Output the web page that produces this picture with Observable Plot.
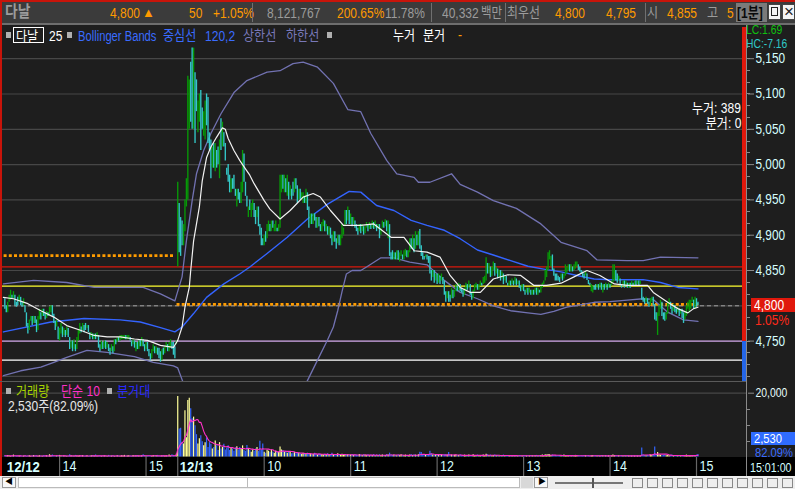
<!DOCTYPE html>
<html><head><meta charset="utf-8">
<script src="https://cdn.jsdelivr.net/npm/d3@7"></script>
<script src="https://cdn.jsdelivr.net/npm/@observablehq/plot@0.6"></script>
<style>
html,body{margin:0;padding:0;}
body{width:795px;height:489px;overflow:hidden;position:relative;background:#1e1e1e;font-family:"Liberation Sans","Noto Sans CJK KR",sans-serif;}
.abs{position:absolute;white-space:nowrap;line-height:1;transform:scaleX(0.86);transform-origin:left center;}
#top{position:absolute;left:0;top:0;width:795px;height:25px;background:#3b3b3b;border-top:2px solid #c8140a;border-bottom:2px solid #6e6e6e;box-sizing:border-box;}
#main{position:absolute;left:0;top:25px;}
#vol{position:absolute;left:0;top:381px;}
#time{position:absolute;left:0;top:457px;}
#scroll{position:absolute;left:0;top:476px;width:795px;height:13px;background:#eeeeee;}
</style></head>
<body>
<div id="top"></div>
<div id="main"></div>
<div id="vol"></div>
<div id="time"></div>
<div id="scroll"></div>
<script>
// ---------------- DATA ----------------
// 1-minute candles, 12/12 afternoon session (13:22 .. close)
const open1212 = [
4810,4800,4790,4805,4808,4815,4810,4815,4805,4812,
4805,4812,4805,4800,4800,4790,4775,4765,4778,4785,
4775,4785,4780,4765,4780,4790,4785,4795,4790,4782,
4790,4785,4790,4800,4788,4778,4770,4770,4750,4760,
4770,4758,4765,4758,4768,4755,4740,4750,4738,4745,
4738,4750,4760,4770,4765,4772,4775,4768,4772,4762,
4755,4760,4752,4760,4755,4758,4745,4738,4748,4740,
4750,4740,4745,4740,4735,4742,4735,4752,4748,4755,
4750,4752,4752,4752,4758,4752,4752,4755,4750,4745,
4750,4735,4748,4738,4752,4742,4752,4745,4738,4748,
4738,4732,4725,4735,4742,4732,4740,4740,4735,4722,
4740,4732,4740,4745,4735,4740,4748,4748,4742,4745];
const close1212 = [
4795,4790,4805,4815,4822,4810,4820,4800,4798,4800,
4815,4800,4798,4810,4790,4770,4760,4780,4785,4772,
4785,4775,4762,4785,4795,4780,4795,4785,4780,4792,
4785,4798,4800,4785,4775,4765,4780,4752,4768,4775,
4755,4768,4755,4770,4755,4738,4750,4735,4752,4735,
4755,4765,4775,4762,4775,4762,4765,4772,4762,4752,
4762,4752,4760,4752,4762,4740,4735,4750,4738,4750,
4738,4748,4735,4730,4745,4732,4752,4745,4755,4750,
4758,4758,4758,4758,4752,4758,4758,4750,4742,4752,
4740,4748,4738,4750,4742,4755,4742,4735,4748,4735,
4728,4722,4738,4745,4732,4742,4730,4725,4720,4738,
4730,4742,4748,4735,4748,4752,4738,4730,4725,4750];
// volume, hundreds of shares
const vol1212 = [
4,3,5,3,2,4,6,3,2,3, 3,4,2,3,5,2,3,4,2,3, 5,4,3,2,4,3,2,5,3,4,
2,7,4,6,3,2,3,4,5,3, 2,4,3,2,3,7,4,2,3,5, 3,2,4,3,5,2,3,4,2,3,
4,5,3,6,2,3,4,2,3,4, 3,2,5,4,3,4,2,3,4,3, 2,4,3,5,2,3,4,3,2,5,
3,4,5,3,2,4,7,5,2,3, 4,3,2,5,3,4,5,3,2,4, 5,3,4,2,6,3,7,5,4,9];

// 1-minute candles, 12/13 (09:00 .. 15:01)
const open1213 = [
4855,4945,4925,4920,4885,4905,4940,4950,5050,5145,
5165,5050,5130,5120,5045,5060,5105,5080,5040,5035,
5100,5095,5045,5035,4995,5030,4990,5020,5025,4980,
5065,5025,5045,5030,4995,5000,4985,4960,4980,4985,
4965,4940,4965,4960,4945,4960,5015,4975,4955,4925,
4950,4925,4935,4945,4935,4925,4940,4915,4910,4895,
4885,4905,4895,4905,4915,4905,4920,4905,4905,4910,
4905,4910,4960,4985,4960,4980,4955,4975,4955,4965,
4975,4960,4980,4970,4950,4965,4950,4945,4955,4945,
4960,4940,4915,4930,4915,4930,4925,4910,4925,4915,
4905,4912,4920,4905,4912,4900,4910,4900,4890,4905,
4895,4888,4900,4885,4895,4900,4912,4935,4920,4935,
4915,4925,4915,4920,4915,4910,4905,4915,4905,4912,
4902,4910,4915,4908,4915,4910,4918,4910,4915,4908,
4915,4900,4910,4918,4912,4920,4895,4915,4875,4878,
4865,4875,4865,4878,4862,4870,4872,4865,4870,4878,
4868,4875,4895,4880,4895,4880,4900,4885,4908,4885,
4875,4870,4868,4872,4870,4870,4850,4840,4850,4835,
4845,4832,4842,4835,4840,4835,4820,4810,4820,4815,
4810,4822,4812,4820,4828,4822,4830,4825,4822,4815,
4822,4830,4825,4830,4818,4810,4820,4825,4830,4822,
4828,4832,4830,4832,4835,4860,4845,4855,4842,4850,
4860,4845,4852,4840,4850,4838,4845,4835,4842,4832,
4828,4835,4830,4835,4830,4838,4830,4835,4828,4822,
4830,4822,4818,4825,4818,4822,4815,4822,4818,4825,
4815,4822,4818,4825,4830,4835,4840,4850,4865,4855,
4872,4852,4845,4845,4842,4840,4838,4845,4838,4842,
4845,4850,4858,4848,4855,4850,4852,4855,4858,4855,
4850,4848,4845,4842,4845,4836,4832,4820,4818,4828,
4830,4825,4830,4825,4832,4818,4830,4825,4830,4825,
4830,4828,4832,4835,4850,4845,4835,4838,4830,4828,
4835,4828,4832,4825,4832,4828,4832,4828,4835,4830,
4835,4830,4825,4812,4810,4805,4810,4805,4800,4805,
4812,4802,4790,4758,4785,4795,4805,4790,4790,4780,
4788,4800,4805,4798,4792,4800,4795,4790,4795,4788,
4795,4790,4780,4785,4795,4790,4795,4805,4808,4795,
4810,4805];
const close1213 = [
4975,4875,4870,4885,4915,4950,4980,5125,5120,5060,
5050,5165,5030,5075,5090,5100,5020,5050,5075,5090,
5055,5030,5020,4980,5025,4995,5030,4995,5000,5035,
5020,5060,5025,5005,4985,4975,4960,4980,4965,4965,
4955,4965,4950,4945,4975,5020,4975,4955,4940,4940,
4935,4945,4950,4925,4915,4940,4912,4900,4885,4885,
4900,4890,4915,4920,4905,4920,4910,4915,4920,4905,
4915,4985,4985,4965,4985,4960,4985,4950,4970,4950,
4955,4980,4965,4945,4965,4950,4960,4960,4945,4965,
4935,4910,4930,4915,4930,4920,4910,4925,4912,4905,
4918,4922,4905,4915,4900,4912,4895,4885,4905,4890,
4880,4900,4885,4900,4915,4910,4935,4915,4940,4915,
4930,4912,4925,4910,4905,4900,4915,4902,4915,4900,
4912,4918,4905,4918,4908,4920,4908,4920,4905,4915,
4895,4910,4920,4910,4922,4905,4920,4870,4865,4865,
4875,4865,4878,4865,4875,4878,4865,4878,4880,4868,
4878,4895,4880,4900,4875,4905,4885,4905,4880,4870,
4865,4865,4872,4865,4860,4845,4835,4850,4832,4845,
4830,4845,4830,4845,4830,4815,4805,4820,4805,4805,
4825,4810,4822,4830,4820,4832,4820,4818,4812,4825,
4832,4822,4835,4815,4808,4822,4830,4832,4822,4830,
4835,4828,4840,4842,4868,4845,4860,4840,4855,4862,
4842,4855,4838,4850,4835,4848,4830,4842,4832,4828,
4835,4828,4838,4828,4840,4828,4835,4825,4820,4830,
4820,4815,4825,4815,4825,4815,4822,4815,4825,4815,
4825,4818,4828,4832,4835,4850,4855,4875,4878,4870,
4850,4842,4835,4835,4835,4833,4845,4835,4845,4858,
4855,4858,4848,4858,4848,4858,4862,4862,4850,4848,
4845,4840,4838,4848,4836,4830,4828,4830,4828,4822,
4822,4830,4822,4832,4822,4830,4822,4832,4822,4832,
4825,4835,4858,4858,4835,4832,4842,4828,4825,4835,
4825,4835,4825,4832,4825,4835,4828,4835,4828,4835,
4828,4835,4808,4805,4802,4812,4802,4798,4810,4812,
4800,4780,4778,4790,4800,4808,4785,4780,4778,4790,
4805,4810,4795,4788,4802,4790,4788,4798,4785,4795,
4782,4775,4790,4800,4805,4808,4808,4812,4795,4812,
4798,4800];
const vol1213 = [
190,88,90,46,41,145,60,177,184,151, 120,125,98,70,41,57,67,48,35,45,
60,30,45,40,25,30,50,35,20,45, 25,30,40,22,28,35,20,30,25,18,
28,32,22,30,25,35,20,18,36,25,
20,15,22,18,25,30,17,49,20,41, 15,12,20,18,14,22,16,12,18,15,
14,31,22,20,15,18,12,16,14,10, 12,15,10,14,12,10,8,12,10,9,
12,8,10,7,9,12,8,6,10,8,
8,6,9,7,10,6,8,12,7,6, 8,10,6,7,9,5,8,6,7,5, 6,8,5,7,6,5,8,6,5,7,
6,5,7,4,6,5,8,4,6,5, 7,5,6,4,5,8,6,12,7,5,
6,5,4,6,5,7,4,5,6,4, 5,6,8,5,7,6,5,7,15,14, 8,6,5,7,6,18,10,6,5,7,
6,5,4,6,5,7,8,6,14,5, 6,4,5,6,4,5,7,4,5,6,
4,5,6,4,5,7,4,5,6,4, 5,4,6,5,9,7,5,6,4,5, 6,4,5,3,4,5,6,4,5,3,
4,5,3,4,5,4,3,5,4,3, 4,5,3,4,3,5,4,3,4,5,
3,4,5,6,5,7,6,8,7,5, 6,4,5,3,4,5,3,4,6,5, 4,3,5,4,3,4,5,3,4,3,
4,3,5,4,3,4,3,4,5,3, 4,3,4,3,5,4,3,4,3,4,
3,4,6,5,4,3,4,3,4,3, 4,3,4,3,4,3,4,3,4,3, 4,3,28,6,5,4,5,4,6,5,
7,31,8,14,6,5,4,5,6,4, 5,4,5,6,4,5,3,4,5,4, 3,4,5,6,4,5,3,4,5,4,
6,8];

// Bollinger Bands (120, 2) and price moving average, read as [slot, price]
// slot = minutes from 12/13 09:00 (12/12 session at negative slots)
const bbUpper = [[-121,4831],[-100,4836],[-77,4833],[-58,4826],[-24,4826],[-12,4817],[-2,4807],
 [3,4841],[6,4892],[10,4949],[13,4987],[18,5020],[23,5044],[30,5072],[39,5102],[48,5119],[62,5131],
 [71,5133],[80,5143],[87,5145],[97,5138],[108,5115],[118,5078],[127,5075],[134,5044],[145,5006],
 [152,4987],[164,4982],[167,4975],[175,4975],[190,4987],[196,4972],[208,4961],[219,4949],[235,4938],
 [252,4916],[266,4890],[284,4878],[291,4865],[312,4864],[323,4864],[335,4869],[361,4868]];
const bbMiddle = [[-121,4763],[-88,4777],[-65,4782],[-40,4780],[-26,4777],[-12,4769],[-2,4763],
 [3,4770],[11,4789],[20,4812],[32,4831],[43,4845],[50,4855],[62,4874],[76,4897],[90,4923],[104,4944],
 [119,4962],[127,4961],[138,4942],[150,4935],[162,4921],[173,4914],[185,4907],[196,4895],[208,4879],
 [219,4872],[231,4864],[243,4856],[254,4852],[266,4848],[277,4843],[289,4838],[300,4837],[323,4837],
 [335,4833],[347,4826],[361,4824]];
const bbLower = [[-121,4701],[-109,4708],[-95,4713],[-86,4720],[-77,4727],[-63,4737],[-49,4734],
 [-30,4728],[-17,4720],[-3,4715],[0,4712],[4,4690],[10,4640],[20,4600],[48,4585],[62,4617],[76,4656],
 [90,4694],[97,4723],[104,4752],[108,4770],[111,4793],[114,4820],[117,4845],[121,4850],[127,4850],
 [131,4855],[141,4868],[150,4868],[161,4862],[173,4858],[185,4836],[196,4819],[208,4810],[219,4800],
 [231,4793],[243,4790],[252,4788],[261,4792],[270,4798],[289,4805],[300,4806],[312,4808],[323,4810],
 [330,4809],[340,4791],[351,4780],[361,4778]];
const priceMA = [[-121,4812],[-114,4810],[-104,4803],[-95,4793],[-86,4784],[-77,4772],[-67,4765],
 [-58,4758],[-49,4756],[-40,4756],[-30,4753],[-21,4751],[-12,4744],[-3,4741],[0,4751],[3,4770],[5,4798],
 [8,4826],[9,4850],[11,4892],[15,4940],[17,4977],[20,5010],[23,5025],[27,5039],[31,5052],[33,5050],
 [35,5037],[39,5020],[43,5006],[47,4994],[50,4985],[53,4973],[60,4949],[64,4937],[71,4923],[78,4935],
 [87,4954],[94,4959],[99,4954],[106,4935],[115,4914],[122,4914],[127,4914],[136,4916],[148,4897],
 [157,4897],[164,4878],[173,4876],[182,4869],[189,4843],[196,4826],[203,4819],[210,4819],[219,4838],
 [229,4844],[238,4843],[247,4829],[256,4829],[266,4832],[275,4841],[284,4850],[293,4843],[303,4831],
 [312,4829],[326,4829],[330,4819],[340,4805],[347,4796],[354,4790],[358,4796],[361,4798]];

// reference price levels
const todayOpen = 4855, prevHigh = 4828, prevClose = 4750, prevLow = 4723;
const sessionLevel1212 = 4871, sessionLevel1213 = 4802;
const lastPrice = 4800;
const priceTicks = [4750, 4800, 4850, 4900, 4950, 5000, 5050, 5100, 5150];
const gridPrices = [4700, 4750, 4800, 4850, 4900, 4950, 5000, 5050, 5100, 5150];
const volTicks = [20000];
const volMinorTicks = [5000, 10000, 15000];
const timeTickSlots = [-120, -82, -22, 0, 60, 120, 180, 240, 300, 360];
const timeTickLabels = ["12/12", "14", "15", "12/13", "10", "11", "12", "13", "14", "15"];

// ---------------- BUILD ----------------
const UP = "#079a07", DOWN = "#34c9c9";
const rows = [];
open1212.forEach((o, i) => rows.push({s: i - open1212.length, o, c: close1212[i], v: vol1212[i] * 100}));
open1213.forEach((o, i) => rows.push({s: i, o, c: close1213[i], v: vol1213[i] * 100}));
const first1212 = -open1212.length, last1213 = open1213.length - 1;
const sessions = [
  {x1: first1212 - 0.5, x2: -1.5, y: sessionLevel1212},
  {x1: -0.5, x2: last1213 + 0.5, y: sessionLevel1213}
];

const X = {type: "linear", domain: [-123, 394], range: [0, 745], axis: null, label: null};
const FONT = '"Liberation Sans","Noto Sans CJK KR",sans-serif';
const minorPrice = [];
for (let p = 4700; p <= 5170; p += 50 / 3) minorPrice.push(p);
const labelTicks = priceTicks.filter(p => p !== lastPrice); // the current-price box covers its own tick label

// narrow the svg labels to the chart's condensed lettering
function condense(svg, k) {
  svg.querySelectorAll("text").forEach(t => {
    let w = 0;
    try { w = t.getBBox().width; } catch (e) { w = 0; }
    if (w > 0) { t.setAttribute("textLength", (w * k).toFixed(1)); t.setAttribute("lengthAdjust", "spacingAndGlyphs"); }
  });
}

const main = Plot.plot({
  width: 795, height: 356,
  marginLeft: 0, marginRight: 48, marginTop: 0, marginBottom: 0,
  style: {background: "transparent", fontFamily: FONT, fontSize: "14px", overflow: "hidden"},
  x: X,
  y: {domain: [4700, 5150], range: [350.9, 33.2], label: null},
  color: {type: "identity"},
  marks: [
    Plot.ruleY(gridPrices, {stroke: "#474747", strokeWidth: 1.2}),
    Plot.ruleY([todayOpen], {stroke: "#d8180c", strokeWidth: 1.3}),
    Plot.ruleY([prevHigh], {stroke: "#ffff30", strokeWidth: 1.3}),
    Plot.ruleY([prevClose], {stroke: "#c89ee0", strokeWidth: 1.3}),
    Plot.ruleY([prevLow], {stroke: "#ffffff", strokeWidth: 1.3}),
    Plot.ruleY([lastPrice], {stroke: "#a0a0a0", strokeWidth: 1, strokeDasharray: "4,3"}),
    Plot.ruleY(sessions, {x1: "x1", x2: "x2", y: "y", stroke: "#ff9c00", strokeWidth: 2.6, strokeDasharray: "3,2.2"}),
    Plot.line(bbUpper, {x: d => d[0], y: d => d[1], stroke: "#7272b2", strokeWidth: 1.3, clip: true}),
    Plot.line(bbLower, {x: d => d[0], y: d => d[1], stroke: "#7272b2", strokeWidth: 1.3, clip: true}),
    Plot.line(bbMiddle, {x: d => d[0], y: d => d[1], stroke: "#3464ff", strokeWidth: 1.4, clip: true}),
    Plot.ruleX(rows, {x: "s", y1: "o", y2: d => d.c === d.o ? d.c + 2 : d.c,
      stroke: d => d.c >= d.o ? UP : DOWN, strokeWidth: 1.35, clip: true}),
    Plot.line(priceMA, {x: d => d[0], y: d => d[1], stroke: "#f2f2f2", strokeWidth: 1.2, clip: true}),
    Plot.axisY({anchor: "right", ticks: labelTicks, tickSize: 6, tickPadding: 2, tickFormat: d3.format(","),
      label: null, stroke: "#8a8a8a", fill: "#d6ffff", fontSize: 14})
  ]
});
document.getElementById("main").appendChild(main);
condense(main, 0.84);
const yMain = main.scale("y");

const vol = Plot.plot({
  width: 795, height: 76,
  marginLeft: 0, marginRight: 48, marginTop: 0, marginBottom: 0,
  style: {background: "transparent", fontFamily: FONT, fontSize: "13px", overflow: "hidden"},
  x: X,
  y: {domain: [0, 20000], range: [75.5, 11.7], label: null},
  color: {type: "identity"},
  marks: [
    Plot.ruleY(volTicks, {stroke: "#474747", strokeWidth: 1.2}),
    Plot.ruleX(rows, {x: "s", y1: 0, y2: "v", stroke: d => d.c >= d.o ? "#ffff9a" : "#3366ff", strokeWidth: 1.2, clip: true}),
    Plot.lineY(rows, Plot.windowY({k: 10, anchor: "end", reduce: "mean"}, {x: "s", y: "v", stroke: "#ff30c8", strokeWidth: 1.1, clip: true})),
    Plot.axisY({anchor: "right", ticks: volTicks, tickSize: 6, tickPadding: 2, tickFormat: d3.format(","),
      label: null, stroke: "#8a8a8a", fill: "#e8ffff", fontSize: 13})
  ]
});
document.getElementById("vol").appendChild(vol);
condense(vol, 0.8);
const yVol = vol.scale("y");

const dateIdx = [0, 3];
const tickRows = timeTickSlots.map((s, i) => ({s, label: timeTickLabels[i], date: dateIdx.includes(i)}));
const timeAxis = Plot.plot({
  width: 795, height: 19,
  marginLeft: 0, marginRight: 48, marginTop: 0, marginBottom: 0,
  style: {background: "#000", fontFamily: FONT, fontSize: "14px", overflow: "hidden"},
  x: X,
  marks: [
    Plot.ruleX(timeTickSlots.slice(1), {stroke: "#666", strokeWidth: 1.2}),
    Plot.text(tickRows.filter(d => !d.date), {x: "s", text: "label", dx: 3, textAnchor: "start", fill: "#d6ffff", fontSize: 14}),
    Plot.text(tickRows.filter(d => d.date), {x: "s", text: "label", dx: 2, textAnchor: "start", fill: "#d6ffff", fontSize: 15, fontWeight: "bold"})
  ]
});
document.getElementById("time").appendChild(timeAxis);
condense(timeAxis, 0.88);

// ---------------- TEXT & FRAME ----------------
function put(text, x, y, color, size, extra) {
  const el = document.createElement("div");
  el.className = "abs";
  el.textContent = text;
  Object.assign(el.style, {left: x + "px", top: y + "px", color, fontSize: size + "px"}, extra || {});
  document.body.appendChild(el);
  return el;
}
function box(x, y, w, h, bg, extra) {
  const el = document.createElement("div");
  Object.assign(el.style, {position: "absolute", left: x + "px", top: y + "px", width: w + "px", height: h + "px", background: bg}, extra || {});
  document.body.appendChild(el);
  return el;
}
// minor axis ticks placed through the plots' own y scales
minorPrice.forEach(p => { const y = 25 + yMain.apply(p); if (y > 26 && y < 380) box(747, Math.round(y), 3, 1, "#8a8a8a"); });
box(747, Math.round(25 + yMain.apply(lastPrice)), 6, 1, "#8a8a8a");
volMinorTicks.forEach(v => box(747, Math.round(381 + yVol.apply(v)), 3, 1, "#8a8a8a"));

// top bar
const G = "#9c9c9c", O = "#ff9a00";
const TB = {transform: "scaleX(0.8)"};
put("다날", 5, 4, G, 16, {fontWeight: "bold"});
put("4,800", 110, 5, O, 15, TB);
put("▲", 142, 6, O, 13, {transform: "none"});
put("50", 189, 5, O, 15, TB);
put("+1.05%", 213, 5, O, 15, TB);
box(252, 3, 1, 19, "#707070");
put("8,121,767", 267, 5, G, 15, TB);
put("200.65%", 337, 5, O, 15, TB);
put("11.78%", 385, 5, G, 15, TB);
box(431, 3, 1, 19, "#707070");
put("40,332", 442, 5, G, 15, TB);
put("백만", 481, 5, G, 14, {transform: "scaleX(0.82)"});
box(505, 3, 1, 19, "#707070");
put("최우선", 507, 5, G, 14, {transform: "scaleX(0.85)"});
put("4,800", 555, 5, O, 15, TB);
put("4,795", 606, 5, O, 15, TB);
box(645, 3, 1, 19, "#707070");
put("시", 647, 5, G, 14);
put("4,855", 667, 5, O, 15, TB);
put("고", 707, 5, G, 14);
put("5", 727, 5, O, 15, TB);
box(736, 3, 31, 19, "#7a7a7a");
put("[1분]", 737, 5, "#0a0a0a", 15, {fontWeight: "bold", transform: "scaleX(0.8)"});
box(768, 4, 13, 16, "#f4f4f4", {border: "1px solid #444", boxSizing: "border-box"});
box(771, 7, 7, 9, "transparent", {border: "1px solid #222", boxSizing: "border-box"});
box(782, 4, 13, 16, "#f4f4f4", {border: "1px solid #444", boxSizing: "border-box"});
put("×", 784, 3, "#222", 17, {transform: "none"});

// left red border
box(0, 0, 2, 476, "#c8140a");

// main legend
box(6, 32, 5, 6, "#b0b0b0");
box(13, 27, 31, 16, "transparent", {border: "1px solid #fff", boxSizing: "border-box"});
put("다날", 16, 29, "#ffffff", 14);
put("25", 49, 29, "#ffffff", 14);
box(67, 32, 5, 6, "#b0b0b0");
put("Bollinger Bands", 78, 29, "#3a6cff", 14, {transform: "scaleX(0.8)"});
put("중심선", 163, 28, "#3a6cff", 14);
put("120,2", 205, 29, "#3a6cff", 14);
put("상한선", 243, 28, "#7878b8", 14);
put("하한선", 286, 28, "#7878b8", 14);
box(327, 32, 5, 6, "#b0b0b0");
put("누거", 393, 28, "#ffffff", 14);
put("분거", 423, 28, "#ffffff", 14);
put("-", 458, 28, O, 14);

// right side of price panel
put("LC:1.69", 746, 24, "#10c010", 12);
put("HC:-7.16", 746, 38, "#30c8c8", 12);
const elA = put("누거: 389", 0, 101, "#ffffff", 14, {transformOrigin: "right center"}); elA.style.left = ""; elA.style.right = (795 - 741) + "px";
const elB = put("분거: 0", 0, 116, "#ffffff", 14, {transformOrigin: "right center"}); elB.style.left = ""; elB.style.right = (795 - 741) + "px";
const yPrev = 25 + yMain.apply(prevClose);
box(742, 27, 4, yPrev - 27, "#e0180c");
box(742, yPrev, 4, 381 - yPrev, "#2466e8");
box(746, 25, 1, 451, "#8a8a8a");
const yLast = 25 + yMain.apply(lastPrice);
box(751, yLast - 7, 44, 14, "#e0180c");
put(d3.format(",")(lastPrice), 754, yLast - 7, "#ffffff", 14);
put("1.05%", 755, yLast + 8, "#ff2a1a", 14);

// panel separators
box(0, 381, 746, 1, "#5a5a5a");
// volume legend
box(6, 388, 5, 6, "#b0b0b0");
put("거래량", 16, 384, "#a8d400", 14);
put("단순 10", 61, 384, "#ff30c8", 14);
box(107, 388, 5, 6, "#b0b0b0");
put("분거대", 117, 384, "#2a2aff", 14);
put("2,530주(82.09%)", 8, 399, "#e6e6e6", 14);
box(751, 432, 44, 13, "#2f6cff");
put("2,530", 754, 432, "#ffffff", 13);
put("82.09%", 755, 446, "#3a6cff", 13);

// time axis end
put("15:01:00", 750, 461, "#d6ffff", 13, {transform: "scaleX(0.82)"});

// scrollbar strip
box(2, 477, 14, 11, "#f8f8f8", {border: "1px solid #999", boxSizing: "border-box"});
put("◀", 5, 478, "#000", 8, {transform: "none"});
box(18, 477, 502, 11, "#ffffff", {border: "1px solid #bbb", boxSizing: "border-box"});
box(247, 477, 1, 11, "#bbb");
box(521, 477, 12, 11, "#d8d8d8");
box(534, 477, 14, 11, "#f8f8f8", {border: "1px solid #999", boxSizing: "border-box"});
put("▶", 538, 478, "#000", 8, {transform: "none"});
box(555, 482, 68, 2, "#777");
box(592, 478, 2, 10, "#555");
for (let i = 0; i < 11; i++) box(632 + i * 15, 478, 11, 10, "transparent", {border: "1px solid #888", boxSizing: "border-box"});
</script>
</body></html>
